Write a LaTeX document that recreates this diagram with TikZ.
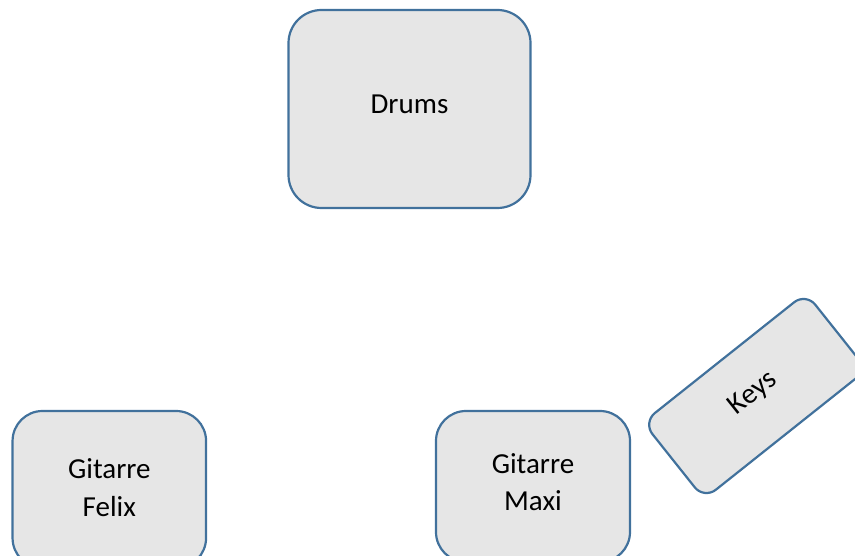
\documentclass[tikz,border=0pt]{standalone}
\usepackage{fontspec}
\setmainfont{Carlito}
\definecolor{edgeblue}{HTML}{41719C}
\definecolor{boxfill}{HTML}{E6E6E6}
\begin{document}
\begin{tikzpicture}[x=1pt,y=1pt,
  boxstyle/.style={draw=edgeblue, fill=boxfill, line width=2.2pt,
    inner sep=0pt, align=center, font=\fontsize{29}{37.5}\selectfont}]
\clip (0,0) rectangle (855,555);
\node[boxstyle, rounded corners=33pt, minimum width=242pt, minimum height=198pt, text depth=10pt]
  (drums) at (409.5,446) {Drums};
\node[boxstyle, rounded corners=30pt, minimum width=193.5pt, minimum height=157pt, text depth=4.4pt]
  (felix) at (109.3,65.5) {Gitarre\\Felix};
\node[boxstyle, rounded corners=30pt, minimum width=194pt, minimum height=151pt, text depth=9pt]
  (maxi) at (533,68.5) {Gitarre\\Maxi};
\node[boxstyle, rounded corners=15pt, minimum width=208pt, minimum height=98pt, rotate=38.5, text depth=10pt]
  (keys) at (755,159) {Keys};
\end{tikzpicture}
\end{document}
